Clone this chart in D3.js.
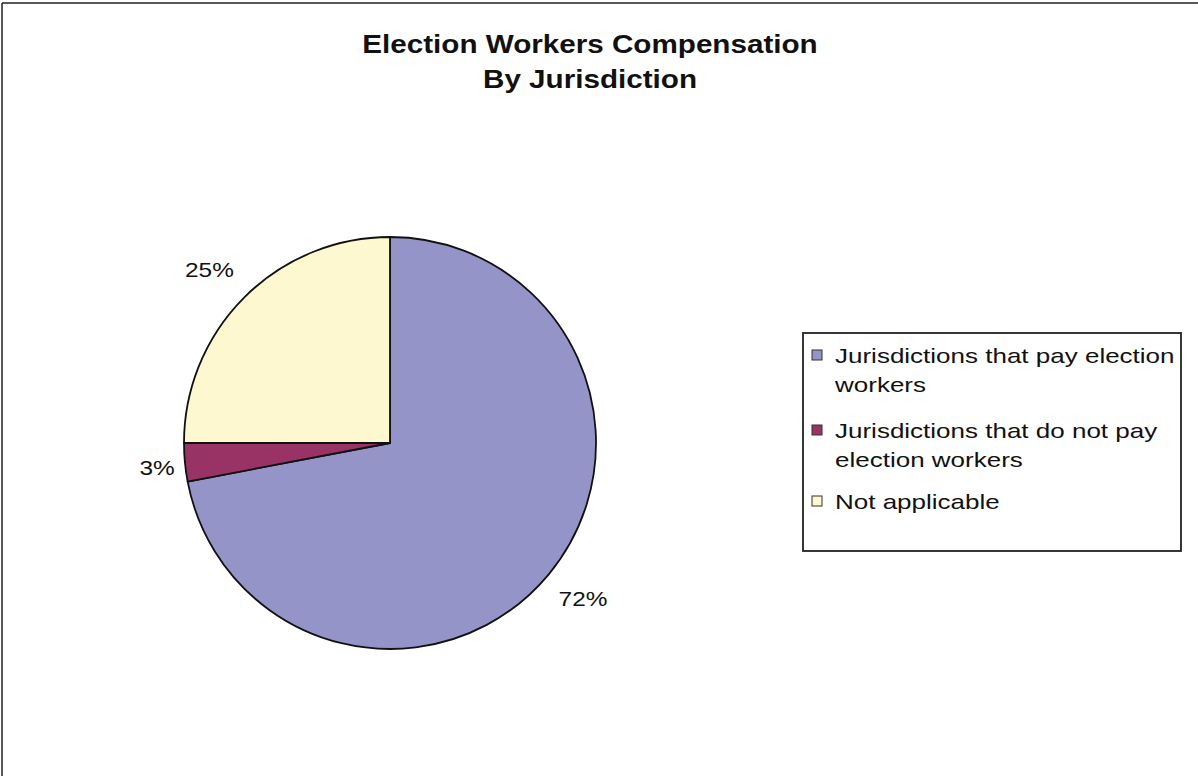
<!DOCTYPE html>
<html>
<head>
<meta charset="utf-8">
<script src="https://cdn.jsdelivr.net/npm/d3@7"></script>
<style>
body { margin: 0; background: #fff; }
text { font-family: "Liberation Sans", Arial, sans-serif; fill: #111; }
</style>
</head>
<body>
<div id="area"></div>
<script>
var width = 1198;
var height = 776;

// data
var categories = ["Jurisdictions that pay election workers", "Jurisdictions that do not pay election workers", "Not applicable"];
var legendLines = [["Jurisdictions that pay election", "workers"], ["Jurisdictions that do not pay", "election workers"], ["Not applicable"]];
var values = [72, 3, 25];
var colors = ["#9594c9", "#993366", "#fdf8cf"];
var titleLines = ["Election Workers Compensation", "By Jurisdiction"];

// the source image is stretched sideways, so text gets a wider scale
function stretched(sel, x, y, sx) {
    sel.attr("transform", "translate(" + x + "," + y + ") scale(" + sx + ",1)");
}

var svg = d3.select("#area").append("svg")
    .attr("width", width)
    .attr("height", height);

svg.append("rect") // Rahmen
    .attr("width", width)
    .attr("height", height)
    .attr("fill", "#fff");

svg.append("line").attr("x1", 2).attr("y1", 3).attr("x2", width).attr("y2", 3)
    .attr("stroke", "#222").attr("stroke-width", 1.5);
svg.append("line").attr("x1", 2).attr("y1", 3).attr("x2", 2).attr("y2", height)
    .attr("stroke", "#222").attr("stroke-width", 1.5);

// Titel
svg.append("g").selectAll("text")
    .data(titleLines)
    .enter().append("text")
    .attr("text-anchor", "middle")
    .style("font-size", "26px")
    .style("font-weight", "bold")
    .text(function(d) { return d })
    .each(function(d,i) { stretched(d3.select(this), 590, 53 + i*35, 1.14) });

// Pie
var cx = 390, cy = 443, r = 206;
var pie = d3.pie().sort(null).value(function(d) { return d });
var arc = d3.arc().innerRadius(0).outerRadius(r);
var labelArc = d3.arc().innerRadius(r + 38).outerRadius(r + 38);

var g = svg.append("g").attr("transform", "translate(" + cx + "," + cy + ")");
var arcs = pie(values);

g.selectAll("path")
    .data(arcs)
    .enter().append("path")
    .attr("d", arc)
    .attr("fill", function(d,i) { return colors[i] })
    .attr("stroke", "#111")
    .attr("stroke-width", 1.8)
    .attr("stroke-linejoin", "round");

var labelOffsets = [[5, 0], [10, 2], [-8, 0]];
g.selectAll("text.lbl")
    .data(arcs)
    .enter().append("text")
    .attr("class", "lbl")
    .attr("text-anchor", "middle")
    .attr("dy", "0.35em")
    .style("font-size", "20px")
    .text(function(d) { return d.value + "%" })
    .each(function(d,i) {
        var c = labelArc.centroid(d);
        stretched(d3.select(this), c[0] + labelOffsets[i][0], c[1] + labelOffsets[i][1], 1.22);
    });

// Legende
var legend = svg.append("g").attr("transform", "translate(803,333)");
legend.append("rect")
    .attr("width", 378)
    .attr("height", 218)
    .attr("fill", "#fff")
    .attr("stroke", "#222")
    .attr("stroke-width", 1.8);

var rowY = [22, 97, 168];
var item = legend.selectAll("g.item")
    .data(categories)
    .enter().append("g")
    .attr("class", "item")
    .attr("transform", function(d,i) { return "translate(0," + rowY[i] + ")" });

item.append("rect")
    .attr("x", 9).attr("y", -5)
    .attr("width", 10).attr("height", 10)
    .attr("fill", function(d,i) { return colors[i] })
    .attr("stroke", "#333")
    .attr("stroke-width", 1);

item.each(function(d,i) {
    d3.select(this).selectAll("text")
        .data(legendLines[i])
        .enter().append("text")
        .style("font-size", "20px")
        .text(function(t) { return t })
        .each(function(t,j) { stretched(d3.select(this), 32, 8 + j*29, 1.3) });
});
</script>
</body>
</html>
